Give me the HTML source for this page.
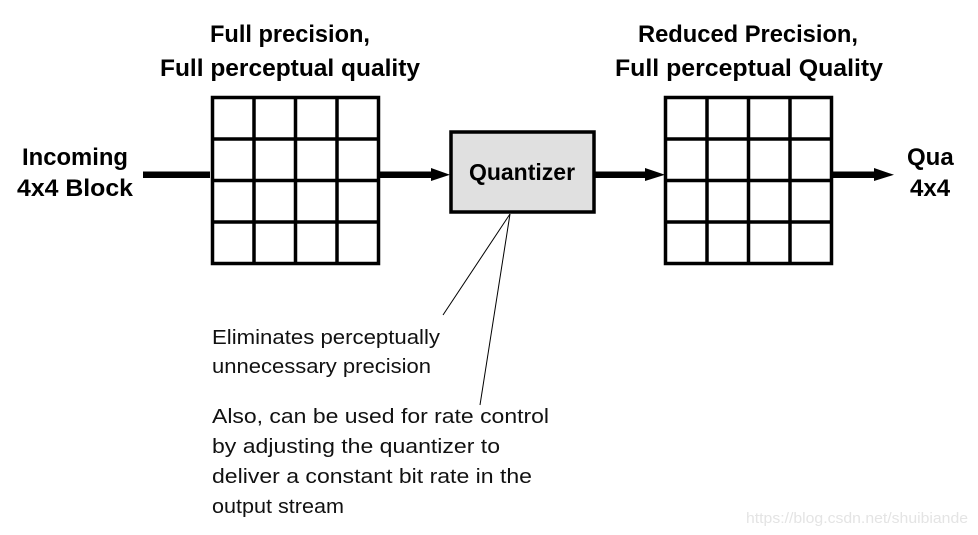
<!DOCTYPE html>
<html><head><meta charset="utf-8"><style>
html,body{margin:0;padding:0;background:#fff;width:978px;height:535px;overflow:hidden}
svg{display:block}
.b{font-family:"Liberation Sans",sans-serif;font-weight:bold;fill:#000}
.n{font-family:"Liberation Sans",sans-serif;fill:#111}
</style></head><body>
<svg width="978" height="535" viewBox="0 0 978 535">
<g stroke="#000" stroke-width="3.5" fill="none">
<rect x="212.5" y="97.5" width="166" height="166"/>
<line x1="254" y1="97.5" x2="254" y2="263.5"/><line x1="295.5" y1="97.5" x2="295.5" y2="263.5"/><line x1="337" y1="97.5" x2="337" y2="263.5"/>
<line x1="212.5" y1="139" x2="378.5" y2="139"/><line x1="212.5" y1="180.5" x2="378.5" y2="180.5"/><line x1="212.5" y1="222" x2="378.5" y2="222"/>
<rect x="665.5" y="97.5" width="166" height="166"/>
<line x1="707" y1="97.5" x2="707" y2="263.5"/><line x1="748.5" y1="97.5" x2="748.5" y2="263.5"/><line x1="790" y1="97.5" x2="790" y2="263.5"/>
<line x1="665.5" y1="139" x2="831.5" y2="139"/><line x1="665.5" y1="180.5" x2="831.5" y2="180.5"/><line x1="665.5" y1="222" x2="831.5" y2="222"/>
</g>
<rect x="451" y="132" width="143" height="80" fill="#e0e0e0" stroke="#000" stroke-width="3.5"/>
<text class="b" x="522" y="180" font-size="23" text-anchor="middle">Quantizer</text>
<g fill="#000">
<rect x="143" y="171.5" width="67" height="6.5"/>
<rect x="379" y="171.5" width="54" height="6.5"/><polygon points="431,168 450,174.8 431,181"/>
<rect x="595" y="171.5" width="52" height="6.5"/><polygon points="645,168 665,174.8 645,181"/>
<rect x="832" y="171.5" width="44" height="6.5"/><polygon points="874,168 894,174.8 874,181"/>
</g>
<g stroke="#000" stroke-width="1">
<line x1="510" y1="214" x2="443" y2="315"/><line x1="510" y1="214" x2="480" y2="405"/>
</g>
<text class="b" x="290" y="42" font-size="24" text-anchor="middle" textLength="160" lengthAdjust="spacingAndGlyphs">Full precision,</text>
<text class="b" x="290" y="76" font-size="24" text-anchor="middle" textLength="260" lengthAdjust="spacingAndGlyphs">Full perceptual quality</text>
<text class="b" x="748" y="42" font-size="24" text-anchor="middle" textLength="220" lengthAdjust="spacingAndGlyphs">Reduced Precision,</text>
<text class="b" x="749" y="76" font-size="24" text-anchor="middle" textLength="268" lengthAdjust="spacingAndGlyphs">Full perceptual Quality</text>
<text class="b" x="75" y="165" font-size="24" text-anchor="middle" textLength="106" lengthAdjust="spacingAndGlyphs">Incoming</text>
<text class="b" x="75" y="196" font-size="24" text-anchor="middle" textLength="116" lengthAdjust="spacingAndGlyphs">4x4 Block</text>
<text class="b" x="907" y="165" font-size="24">Qua</text>
<text class="b" x="910" y="196" font-size="24">4x4</text>
<g class="n" font-size="20">
<text x="212" y="344" textLength="228" lengthAdjust="spacingAndGlyphs">Eliminates perceptually</text>
<text x="212" y="373" textLength="219" lengthAdjust="spacingAndGlyphs">unnecessary precision</text>
<text x="212" y="423" textLength="337" lengthAdjust="spacingAndGlyphs">Also, can be used for rate control</text>
<text x="212" y="453" textLength="288" lengthAdjust="spacingAndGlyphs">by adjusting the quantizer to</text>
<text x="212" y="483" textLength="320" lengthAdjust="spacingAndGlyphs">deliver a constant bit rate in the</text>
<text x="212" y="513" textLength="132" lengthAdjust="spacingAndGlyphs">output stream</text>
</g>
<text x="746" y="523" font-family="Liberation Sans,sans-serif" font-size="15" fill="#e4e4e4" textLength="222" lengthAdjust="spacingAndGlyphs">https://blog.csdn.net/shuibiande</text>
</svg>
</body></html>
